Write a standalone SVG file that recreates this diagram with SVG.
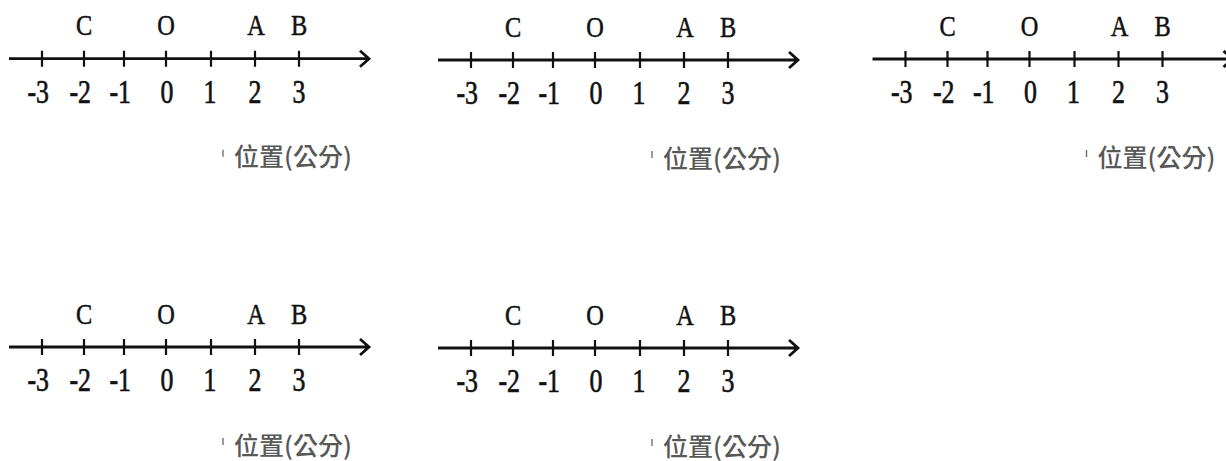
<svg xmlns="http://www.w3.org/2000/svg" width="1226" height="461" viewBox="0 0 1226 461">
<style>
.ax{fill:none;stroke:#111;stroke-width:2.8;stroke-linecap:butt}
.tk{stroke:#111;stroke-width:2.2}
.lt{font-family:"Liberation Serif",serif;font-size:29px;fill:#111;stroke:#111;stroke-width:0.5;text-anchor:middle}
.nm{font-family:"Liberation Serif",serif;font-size:34px;fill:#111;stroke:#111;stroke-width:0.7}
.un{font-family:"Noto Sans CJK TC","Noto Sans CJK SC",sans-serif;font-size:25px;font-weight:500;fill:#585858}
.mk{stroke:#666;stroke-width:1.3}
</style>
<rect width="1226" height="461" fill="#fff"/>
<g id="panel1" transform="translate(0,58.7)">
 <g id="connectors1">
  <path class="ax" d="M9 0H368M360 -8L369 0L360 8"/>
  <path class="tk" d="M42 -8V8M84 -8V8M124 -8V8M166 -8V8M211 -8V8M255 -8V8M299 -8V8"/>
 </g>
 <g id="labels1">
  <text class="lt" transform="translate(84,-23.5) scale(0.84,1)">C</text>
  <text class="lt" transform="translate(166,-23.5) scale(0.84,1)">O</text>
  <text class="lt" transform="translate(256,-23.5) scale(0.84,1)">A</text>
  <text class="lt" transform="translate(299,-23.5) scale(0.84,1)">B</text>
  <text class="nm" text-anchor="end" transform="translate(49,44) scale(0.76,1)">-3</text>
  <text class="nm" text-anchor="end" transform="translate(91,44) scale(0.76,1)">-2</text>
  <text class="nm" text-anchor="end" transform="translate(131,44) scale(0.76,1)">-1</text>
  <text class="nm" text-anchor="middle" transform="translate(167,44) scale(0.76,1)">0</text>
  <text class="nm" text-anchor="middle" transform="translate(210,44) scale(0.76,1)">1</text>
  <text class="nm" text-anchor="middle" transform="translate(255,44) scale(0.76,1)">2</text>
  <text class="nm" text-anchor="middle" transform="translate(299,44) scale(0.76,1)">3</text>
  <line class="mk" x1="223" y1="91" x2="223" y2="98"/>
  <text class="un" x="234" y="107.5">位置(公分)</text>
 </g>
</g>
<g id="panel2" transform="translate(429,60)">
 <g id="connectors2">
  <path class="ax" d="M9 0H368M360 -8L369 0L360 8"/>
  <path class="tk" d="M42 -8V8M84 -8V8M124 -8V8M166 -8V8M211 -8V8M255 -8V8M299 -8V8"/>
 </g>
 <g id="labels2">
  <text class="lt" transform="translate(84,-23.5) scale(0.84,1)">C</text>
  <text class="lt" transform="translate(166,-23.5) scale(0.84,1)">O</text>
  <text class="lt" transform="translate(256,-23.5) scale(0.84,1)">A</text>
  <text class="lt" transform="translate(299,-23.5) scale(0.84,1)">B</text>
  <text class="nm" text-anchor="end" transform="translate(49,44) scale(0.76,1)">-3</text>
  <text class="nm" text-anchor="end" transform="translate(91,44) scale(0.76,1)">-2</text>
  <text class="nm" text-anchor="end" transform="translate(131,44) scale(0.76,1)">-1</text>
  <text class="nm" text-anchor="middle" transform="translate(167,44) scale(0.76,1)">0</text>
  <text class="nm" text-anchor="middle" transform="translate(210,44) scale(0.76,1)">1</text>
  <text class="nm" text-anchor="middle" transform="translate(255,44) scale(0.76,1)">2</text>
  <text class="nm" text-anchor="middle" transform="translate(299,44) scale(0.76,1)">3</text>
  <line class="mk" x1="223" y1="91" x2="223" y2="98"/>
  <text class="un" x="234" y="107.5">位置(公分)</text>
 </g>
</g>
<g id="panel3" transform="translate(863.5,59)">
 <g id="connectors3">
  <path class="ax" d="M9 0H368M360 -8L369 0L360 8"/>
  <path class="tk" d="M42 -8V8M84 -8V8M124 -8V8M166 -8V8M211 -8V8M255 -8V8M299 -8V8"/>
 </g>
 <g id="labels3">
  <text class="lt" transform="translate(84,-23.5) scale(0.84,1)">C</text>
  <text class="lt" transform="translate(166,-23.5) scale(0.84,1)">O</text>
  <text class="lt" transform="translate(256,-23.5) scale(0.84,1)">A</text>
  <text class="lt" transform="translate(299,-23.5) scale(0.84,1)">B</text>
  <text class="nm" text-anchor="end" transform="translate(49,44) scale(0.76,1)">-3</text>
  <text class="nm" text-anchor="end" transform="translate(91,44) scale(0.76,1)">-2</text>
  <text class="nm" text-anchor="end" transform="translate(131,44) scale(0.76,1)">-1</text>
  <text class="nm" text-anchor="middle" transform="translate(167,44) scale(0.76,1)">0</text>
  <text class="nm" text-anchor="middle" transform="translate(210,44) scale(0.76,1)">1</text>
  <text class="nm" text-anchor="middle" transform="translate(255,44) scale(0.76,1)">2</text>
  <text class="nm" text-anchor="middle" transform="translate(299,44) scale(0.76,1)">3</text>
  <line class="mk" x1="223" y1="91" x2="223" y2="98"/>
  <text class="un" x="234" y="107.5">位置(公分)</text>
 </g>
</g>
<g id="panel4" transform="translate(0,347)">
 <g id="connectors4">
  <path class="ax" d="M9 0H368M360 -8L369 0L360 8"/>
  <path class="tk" d="M42 -8V8M84 -8V8M124 -8V8M166 -8V8M211 -8V8M255 -8V8M299 -8V8"/>
 </g>
 <g id="labels4">
  <text class="lt" transform="translate(84,-23.5) scale(0.84,1)">C</text>
  <text class="lt" transform="translate(166,-23.5) scale(0.84,1)">O</text>
  <text class="lt" transform="translate(256,-23.5) scale(0.84,1)">A</text>
  <text class="lt" transform="translate(299,-23.5) scale(0.84,1)">B</text>
  <text class="nm" text-anchor="end" transform="translate(49,44) scale(0.76,1)">-3</text>
  <text class="nm" text-anchor="end" transform="translate(91,44) scale(0.76,1)">-2</text>
  <text class="nm" text-anchor="end" transform="translate(131,44) scale(0.76,1)">-1</text>
  <text class="nm" text-anchor="middle" transform="translate(167,44) scale(0.76,1)">0</text>
  <text class="nm" text-anchor="middle" transform="translate(210,44) scale(0.76,1)">1</text>
  <text class="nm" text-anchor="middle" transform="translate(255,44) scale(0.76,1)">2</text>
  <text class="nm" text-anchor="middle" transform="translate(299,44) scale(0.76,1)">3</text>
  <line class="mk" x1="223" y1="91" x2="223" y2="98"/>
  <text class="un" x="234" y="107.5">位置(公分)</text>
 </g>
</g>
<g id="panel5" transform="translate(429,348)">
 <g id="connectors5">
  <path class="ax" d="M9 0H368M360 -8L369 0L360 8"/>
  <path class="tk" d="M42 -8V8M84 -8V8M124 -8V8M166 -8V8M211 -8V8M255 -8V8M299 -8V8"/>
 </g>
 <g id="labels5">
  <text class="lt" transform="translate(84,-23.5) scale(0.84,1)">C</text>
  <text class="lt" transform="translate(166,-23.5) scale(0.84,1)">O</text>
  <text class="lt" transform="translate(256,-23.5) scale(0.84,1)">A</text>
  <text class="lt" transform="translate(299,-23.5) scale(0.84,1)">B</text>
  <text class="nm" text-anchor="end" transform="translate(49,44) scale(0.76,1)">-3</text>
  <text class="nm" text-anchor="end" transform="translate(91,44) scale(0.76,1)">-2</text>
  <text class="nm" text-anchor="end" transform="translate(131,44) scale(0.76,1)">-1</text>
  <text class="nm" text-anchor="middle" transform="translate(167,44) scale(0.76,1)">0</text>
  <text class="nm" text-anchor="middle" transform="translate(210,44) scale(0.76,1)">1</text>
  <text class="nm" text-anchor="middle" transform="translate(255,44) scale(0.76,1)">2</text>
  <text class="nm" text-anchor="middle" transform="translate(299,44) scale(0.76,1)">3</text>
  <line class="mk" x1="223" y1="91" x2="223" y2="98"/>
  <text class="un" x="234" y="107.5">位置(公分)</text>
 </g>
</g>
</svg>
